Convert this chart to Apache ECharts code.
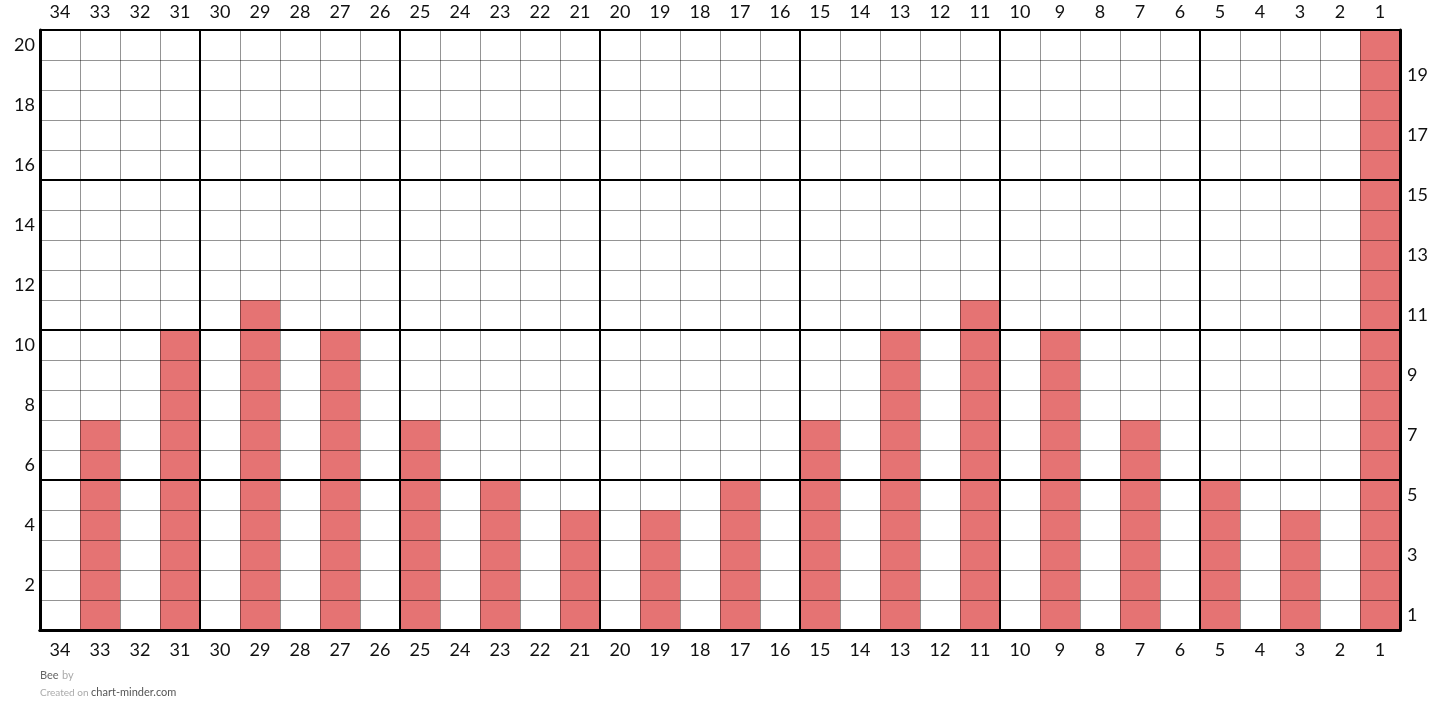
<!DOCTYPE html>
<html>
<head>
<meta charset="utf-8">
<script src="https://cdn.jsdelivr.net/npm/echarts@6/dist/echarts.min.js"></script>
<style>
html,body{margin:0;padding:0;background:#fff;}
#chart{width:1440px;height:723px;}
</style>
</head>
<body>
<div id="chart"></div>
<script>
// Column labels, left to right
const columns = ['34','33','32','31','30','29','28','27','26','25','24','23','22','21','20','19','18','17','16','15','14','13','12','11','10','9','8','7','6','5','4','3','2','1'];
// Filled cells per column (same order)
const filled = [0,7,0,10,0,11,0,10,0,7,0,5,0,4,0,4,0,5,0,7,0,10,0,11,0,10,0,7,0,5,0,4,0,20];
// Row labels
const rows = ['1','2','3','4','5','6','7','8','9','10','11','12','13','14','15','16','17','18','19','20'];
const title = 'Bee';

const chart = echarts.init(document.getElementById('chart'));
const FONT = 'Lato';
const labelStyle = {color:'#111', fontSize:18, fontFamily:FONT};
const thin = {show:true, lineStyle:{color:'rgba(0,0,0,0.42)', width:1}};
const thick = {show:true, lineStyle:{color:'#000', width:2}};

chart.setOption({
  animation:false,
  grid:{left:40, right:40, top:30, bottom:93},
  xAxis:[
    {type:'category', data:columns, position:'bottom', z:10,
     axisLine:{show:true, lineStyle:{color:'#000', width:3}}, axisTick:{show:false},
     axisLabel:Object.assign({interval:0, margin:11}, labelStyle), splitLine:{show:false}},
    {type:'category', data:columns, position:'top', z:10,
     axisLine:{show:true, lineStyle:{color:'#000', width:3}}, axisTick:{show:false},
     axisLabel:Object.assign({interval:0, margin:9}, labelStyle), splitLine:{show:false}},
    {type:'value', min:0, max:34, interval:1, inverse:true, position:'bottom', z:8,
     axisLine:{show:false}, axisTick:{show:false}, axisLabel:{show:false}, splitLine:thin},
    {type:'value', min:0, max:34, interval:5, inverse:true, position:'bottom', z:9,
     axisLine:{show:false}, axisTick:{show:false}, axisLabel:{show:false}, splitLine:thick}
  ],
  yAxis:[
    {type:'value', min:0, max:20, interval:1, position:'left', z:8,
     axisLine:{show:false}, axisTick:{show:false}, axisLabel:{show:false}, splitLine:thin},
    {type:'value', min:0, max:20, interval:5, position:'left', z:9,
     axisLine:{show:false}, axisTick:{show:false}, axisLabel:{show:false}, splitLine:thick},
    {type:'category', data:rows, position:'left', z:10,
     axisLine:{show:true, lineStyle:{color:'#000', width:3}}, axisTick:{show:false}, splitLine:{show:false},
     axisLabel:Object.assign({interval:0, margin:5, formatter:v => (Number(v)%2===0 ? v : '')}, labelStyle)},
    {type:'category', data:rows, position:'right', z:10,
     axisLine:{show:true, lineStyle:{color:'#000', width:3}}, axisTick:{show:false}, splitLine:{show:false},
     axisLabel:Object.assign({interval:0, margin:7, formatter:v => (Number(v)%2===1 ? v : '')}, labelStyle)}
  ],
  series:[{
    type:'bar', xAxisIndex:0, yAxisIndex:0, data:filled, z:2,
    barWidth:'100%', barGap:'0%', barCategoryGap:'0%',
    itemStyle:{color:'#e57373'}, silent:true
  }],
  graphic:[
    {type:'text', left:40, top:669, style:{text:'{a|'+title+'} {b|by}', rich:{a:{fill:'#666', fontSize:11, fontFamily:FONT}, b:{fill:'#aaa', fontSize:11, fontFamily:FONT}}}},
    {type:'text', left:40, top:687, style:{text:'{b|Created on }{a|chart-minder.com}', rich:{a:{fill:'#555', fontSize:11, fontFamily:FONT}, b:{fill:'#aaa', fontSize:10, fontFamily:FONT}}}}
  ]
});
</script>
</body>
</html>
